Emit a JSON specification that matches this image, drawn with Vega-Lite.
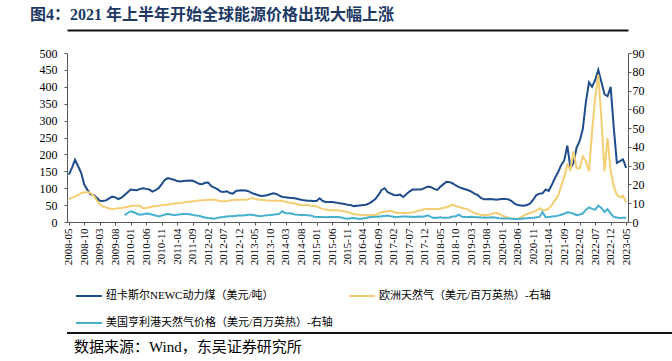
{
"$schema": "https://vega.github.io/schema/vega-lite/v6.json",
"padding": {"left": 22, "top": 7, "right": 0, "bottom": 0},
"title": {"text": "图4：2021 年上半年开始全球能源价格出现大幅上涨", "anchor": "start", "dx": 8, "font": "Liberation Serif, Noto Sans CJK SC", "fontSize": 16, "fontWeight": "bold", "color": "#203864", "offset": 7},
"spacing": 0,
"config": {"view": {"stroke": null}},
"resolve": {"scale": {"x": "independent", "y": "independent", "color": "independent"}, "legend": {"color": "independent"}},
"datasets": {"p": [
{"d":"2008-05","c":140,"e":12.2},{"d":"2008-06","c":160,"e":13},{"d":"2008-07","c":184,"e":13.5},{"d":"2008-08","c":165,"e":14.5},{"d":"2008-09","c":145,"e":15.4},{"d":"2008-10","c":110,"e":15.7},{"d":"2008-11","c":95,"e":16},{"d":"2008-12","c":82,"e":15.5},
{"d":"2009-01","c":80,"e":14},{"d":"2009-02","c":72,"e":11.5},{"d":"2009-03","c":63,"e":9.5},{"d":"2009-04","c":62,"e":8.2},{"d":"2009-05","c":64,"e":7.8},{"d":"2009-06","c":70,"e":7.2},{"d":"2009-07","c":75,"e":6.9},{"d":"2009-08","c":73,"e":7},{"d":"2009-09","c":68,"e":7.3},{"d":"2009-10","c":72,"e":7.5},{"d":"2009-11","c":80,"e":7.8,"h":3.6},{"d":"2009-12","c":88,"e":8,"h":4.8},
{"d":"2010-01","c":96,"e":8.5,"h":5.7},{"d":"2010-02","c":95,"e":8.7,"h":5.2},{"d":"2010-03","c":94,"e":8.7,"h":4.4},{"d":"2010-04","c":98,"e":8.6,"h":3.9},{"d":"2010-05","c":100,"e":7.2,"h":4.1},{"d":"2010-06","c":98,"e":7.5,"h":4.5},{"d":"2010-07","c":96,"e":7.8,"h":4.4},{"d":"2010-08","c":90,"e":8.2,"h":3.9},{"d":"2010-09","c":94,"e":8.4,"h":3.5},{"d":"2010-10","c":100,"e":8.6,"h":3.0},{"d":"2010-11","c":112,"e":8.9,"h":3.4},{"d":"2010-12","c":125,"e":9.1,"h":4.0},
{"d":"2011-01","c":130,"e":9.3,"h":4.3},{"d":"2011-02","c":127,"e":9.6,"h":4.0},{"d":"2011-03","c":125,"e":9.8,"h":3.6},{"d":"2011-04","c":121,"e":10,"h":3.8},{"d":"2011-05","c":120,"e":10.1,"h":4.1},{"d":"2011-06","c":121,"e":10.4,"h":4.3},{"d":"2011-07","c":122,"e":10.6,"h":4.3},{"d":"2011-08","c":123,"e":10.8,"h":4.1},{"d":"2011-09","c":122,"e":11,"h":3.8},{"d":"2011-10","c":118,"e":11.2,"h":3.5},{"d":"2011-11","c":113,"e":11.4,"h":3.3},{"d":"2011-12","c":112,"e":11.6,"h":2.8},
{"d":"2012-01","c":116,"e":11.6,"h":2.4},{"d":"2012-02","c":117,"e":11.8,"h":2.1},{"d":"2012-03","c":106,"e":11.9,"h":2.0},{"d":"2012-04","c":102,"e":11.9,"h":1.8},{"d":"2012-05","c":97,"e":11.5,"h":2.2},{"d":"2012-06","c":90,"e":11.1,"h":2.5},{"d":"2012-07","c":89,"e":11,"h":2.7},{"d":"2012-08","c":91,"e":11.2,"h":2.9},{"d":"2012-09","c":86,"e":11.5,"h":3.0},{"d":"2012-10","c":84,"e":11.7,"h":3.1},{"d":"2012-11","c":92,"e":11.8,"h":3.3},{"d":"2012-12","c":93,"e":11.9,"h":3.4},
{"d":"2013-01","c":94,"e":11.9,"h":3.4},{"d":"2013-02","c":93,"e":11.9,"h":3.6},{"d":"2013-03","c":91,"e":12,"h":3.8},{"d":"2013-04","c":86,"e":12.8,"h":3.9},{"d":"2013-05","c":83,"e":12.4,"h":3.6},{"d":"2013-06","c":80,"e":12,"h":3.3},{"d":"2013-07","c":77,"e":11.9,"h":3.1},{"d":"2013-08","c":78,"e":11.7,"h":3.4},{"d":"2013-09","c":79,"e":11.5,"h":3.6},{"d":"2013-10","c":82,"e":11.4,"h":3.7},{"d":"2013-11","c":85,"e":11.3,"h":3.9},{"d":"2013-12","c":83,"e":11.3,"h":4.1},
{"d":"2014-01","c":78,"e":11.3,"h":4.4},{"d":"2014-02","c":74,"e":11.2,"h":5.7},{"d":"2014-03","c":73,"e":10.8,"h":4.6},{"d":"2014-04","c":72,"e":10.4,"h":4.6},{"d":"2014-05","c":71,"e":10.1,"h":4.5},{"d":"2014-06","c":70,"e":9.8,"h":4.0},{"d":"2014-07","c":68,"e":9.3,"h":3.8},{"d":"2014-08","c":66,"e":8.9,"h":3.7},{"d":"2014-09","c":64,"e":8.9,"h":3.7},{"d":"2014-10","c":63,"e":9.2,"h":3.6},{"d":"2014-11","c":63,"e":8.7,"h":3.5},{"d":"2014-12","c":62,"e":8.5,"h":2.9},
{"d":"2015-01","c":62,"e":8.3,"h":2.7},{"d":"2015-02","c":70,"e":7.5,"h":2.7},{"d":"2015-03","c":62,"e":7,"h":2.6},{"d":"2015-04","c":59,"e":6.6,"h":2.5},{"d":"2015-05","c":59,"e":6.4,"h":2.7},{"d":"2015-06","c":59,"e":6.3,"h":2.6},{"d":"2015-07","c":58,"e":6.2,"h":2.6},{"d":"2015-08","c":56,"e":6.2,"h":2.6},{"d":"2015-09","c":55,"e":6,"h":2.4},{"d":"2015-10","c":53,"e":5.6,"h":2.0},{"d":"2015-11","c":51,"e":5.3,"h":1.8},{"d":"2015-12","c":50,"e":4.8,"h":2.0},
{"d":"2016-01","c":47,"e":4.3,"h":2.1},{"d":"2016-02","c":48,"e":4,"h":1.9},{"d":"2016-03","c":49,"e":3.8,"h":1.6},{"d":"2016-04","c":50,"e":3.6,"h":1.9},{"d":"2016-05","c":51,"e":3.6,"h":2.1},{"d":"2016-06","c":55,"e":3.6,"h":2.5},{"d":"2016-07","c":61,"e":3.7,"h":2.6},{"d":"2016-08","c":68,"e":3.6,"h":2.8},{"d":"2016-09","c":80,"e":4.5,"h":2.8},{"d":"2016-10","c":95,"e":5.2,"h":3.0},{"d":"2016-11","c":100,"e":5.4,"h":3.2},{"d":"2016-12","c":88,"e":5.7,"h":3.4},
{"d":"2017-01","c":84,"e":6,"h":3.0},{"d":"2017-02","c":80,"e":5.4,"h":2.8},{"d":"2017-03","c":79,"e":4.8,"h":2.7},{"d":"2017-04","c":81,"e":4.8,"h":2.8},{"d":"2017-05","c":74,"e":4.8,"h":2.9},{"d":"2017-06","c":82,"e":4.8,"h":2.9},{"d":"2017-07","c":90,"e":4.8,"h":2.8},{"d":"2017-08","c":96,"e":5.2,"h":2.8},{"d":"2017-09","c":96,"e":5.6,"h":2.7},{"d":"2017-10","c":96,"e":6,"h":2.9},{"d":"2017-11","c":97,"e":6.4,"h":2.8},{"d":"2017-12","c":101,"e":6.9,"h":3.1},
{"d":"2018-01","c":105,"e":6.9,"h":3.6},{"d":"2018-02","c":103,"e":6.9,"h":2.6},{"d":"2018-03","c":98,"e":6.9,"h":2.2},{"d":"2018-04","c":95,"e":6.9,"h":2.3},{"d":"2018-05","c":104,"e":7.2,"h":2.5},{"d":"2018-06","c":112,"e":7.5,"h":2.2},{"d":"2018-07","c":119,"e":7.8,"h":2.3},{"d":"2018-08","c":118,"e":8.5,"h":2.4},{"d":"2018-09","c":114,"e":9.2,"h":2.9},{"d":"2018-10","c":108,"e":8.5,"h":3.1},{"d":"2018-11","c":103,"e":8,"h":3.9},{"d":"2018-12","c":100,"e":7.5,"h":2.8},
{"d":"2019-01","c":97,"e":7.1,"h":2.7},{"d":"2019-02","c":94,"e":6.6,"h":2.7},{"d":"2019-03","c":90,"e":5.6,"h":2.8},{"d":"2019-04","c":84,"e":4.8,"h":2.6},{"d":"2019-05","c":80,"e":4.3,"h":2.5},{"d":"2019-06","c":72,"e":3.8,"h":2.4},{"d":"2019-07","c":67,"e":3.6,"h":2.4},{"d":"2019-08","c":67,"e":3.6,"h":2.3},{"d":"2019-09","c":68,"e":4,"h":2.4},{"d":"2019-10","c":67,"e":4.6,"h":2.5},{"d":"2019-11","c":66,"e":4.8,"h":2.3},{"d":"2019-12","c":67,"e":4.3,"h":2.0},
{"d":"2020-01","c":68,"e":3.3,"h":1.9},{"d":"2020-02","c":68,"e":2.8,"h":1.9},{"d":"2020-03","c":67,"e":2.3,"h":1.8},{"d":"2020-04","c":62,"e":1.8,"h":1.7},{"d":"2020-05","c":54,"e":1.7,"h":1.6},{"d":"2020-06","c":50,"e":1.6,"h":1.6},{"d":"2020-07","c":49,"e":2.5,"h":1.7},{"d":"2020-08","c":48,"e":3.5,"h":1.9},{"d":"2020-09","c":50,"e":4.3,"h":2.0},{"d":"2020-10","c":55,"e":4.8,"h":2.1},{"d":"2020-11","c":66,"e":5.3,"h":2.2},{"d":"2020-12","c":80,"e":6,"h":2.5},
{"d":"2021-01","c":84,"e":7.3,"h":2.7},{"d":"2021-02","c":85,"e":6.2,"h":5.2},{"d":"2021-03","c":96,"e":6.4,"h":2.5},{"d":"2021-04","c":92,"e":7.2,"h":2.6},{"d":"2021-05","c":110,"e":9,"h":2.9},{"d":"2021-06","c":130,"e":11.5,"h":3.0},{"d":"2021-07","c":147,"e":14,"h":3.4},{"d":"2021-08","c":168,"e":19,"h":3.9},{"d":"2021-09","c":182,"e":24,"h":4.4},{"d":"2021-10","c":226,"e":30.5,"h":5.2},{"d":"2021-11","c":160,"e":27.9,"h":5.0},{"d":"2021-12","c":175,"e":37.6,"h":4.4},
{"d":"2022-01","c":220,"e":28.8,"h":3.6},{"d":"2022-02","c":240,"e":28.5,"h":4.0},{"d":"2022-03","c":275,"e":35,"h":4.5},{"d":"2022-04","c":355,"e":32.3,"h":6.6},{"d":"2022-05","c":413,"e":27,"h":7.8},{"d":"2022-06","c":400,"e":48,"h":7.0},{"d":"2022-07","c":420,"e":66,"h":6.6},{"d":"2022-08","c":450,"e":78.4,"h":8.7},{"d":"2022-09","c":415,"e":55,"h":7.5},{"d":"2022-10","c":378,"e":27,"h":5.3},{"d":"2022-11","c":372,"e":44.7,"h":6.9},{"d":"2022-12","c":400,"e":27,"h":4.5},
{"d":"2023-01","c":280,"e":19,"h":2.7},{"d":"2023-02","c":175,"e":14.5,"h":2.4},{"d":"2023-03","c":180,"e":13.3,"h":2.1},{"d":"2023-04","c":185,"e":14,"h":2.2},{"d":"2023-05","c":160,"e":10.5,"h":2.3}
]},
"vconcat": [
{"width": 561, "height": 169, "data": {"name": "p"},
 "layer": [
  {"mark": {"type": "line", "strokeWidth": 2},
   "encoding": {"x": {"field": "d", "type": "ordinal", "sort": null, "scale": {"type": "point", "padding": 0.6},
       "axis": {"orient": "bottom", "title": null, "values": ["2008-05","2008-10","2009-03","2009-08","2010-01","2010-06","2010-11","2011-04","2011-09","2012-02","2012-07","2012-12","2013-05","2013-10","2014-03","2014-08","2015-01","2015-06","2015-11","2016-04","2016-09","2017-02","2017-07","2017-12","2018-05","2018-10","2019-03","2019-08","2020-01","2020-06","2020-11","2021-04","2021-09","2022-02","2022-07","2022-12","2023-05"],
         "labelAngle": -90, "labelFont": "Liberation Serif", "labelFontSize": 11, "labelColor": "#000000", "tickSize": 3, "tickColor": "#595959", "domainColor": "#595959", "labelPadding": 3, "grid": false}},
     "y": {"field": "c", "type": "quantitative", "scale": {"domain": [0, 500]},
       "axis": {"orient": "left", "title": null, "values": [0,50,100,150,200,250,300,350,400,450,500], "grid": false, "labelFont": "Liberation Serif", "labelFontSize": 12, "labelColor": "#000000", "tickSize": 3, "tickColor": "#595959", "domainColor": "#595959", "labelPadding": 7, "minExtent": 45, "maxExtent": 45}},
     "color": {"datum": "纽卡斯尔NEWC动力煤（美元/吨）", "type": "nominal",
       "scale": {"domain": ["纽卡斯尔NEWC动力煤（美元/吨）", "欧洲天然气（美元/百万英热）-右轴", "美国亨利港天然气价格（美元/百万英热）-右轴"], "range": ["#1E4D8C", "#F3CE72", "#46B0CF"]},
       "legend": {"orient": "bottom", "direction": "horizontal", "offset": 17, "columns": 2, "symbolType": "stroke", "symbolSize": 676, "symbolStrokeWidth": 2, "labelFont": "Liberation Serif, Noto Sans CJK SC", "labelFontSize": 11, "labelColor": "#000000", "columnPadding": 12, "rowPadding": 8, "title": " ", "titleOrient": "left", "titlePadding": 8, "titleFontSize": 11, "labelLimit": 400, "padding": 0, "labelOffset": 3}}}},
  {"encoding": {"x": {"field": "d", "type": "ordinal", "sort": null, "scale": {"type": "point", "padding": 0.6},
      "axis": {"orient": "top", "offset": 23, "title": null, "labels": false, "ticks": false, "grid": false, "domainColor": "#111111", "domainWidth": 2}}},
   "layer": [
    {"mark": {"type": "line", "strokeWidth": 2},
     "encoding": {"y": {"field": "e", "type": "quantitative", "scale": {"domain": [0, 90]},
        "axis": {"orient": "right", "title": null, "values": [0,10,20,30,40,50,60,70,80,90], "grid": false, "labelFont": "Liberation Serif", "labelFontSize": 12, "labelColor": "#000000", "tickSize": 3, "tickColor": "#595959", "domainColor": "#595959", "labelPadding": 1}},
       "color": {"datum": "欧洲天然气（美元/百万英热）-右轴", "type": "nominal"}}},
    {"mark": {"type": "line", "strokeWidth": 2},
     "encoding": {"y": {"field": "h", "type": "quantitative", "scale": {"domain": [0, 90]},
        "axis": {"orient": "right", "title": null, "values": [0,10,20,30,40,50,60,70,80,90], "grid": false, "labelFont": "Liberation Serif", "labelFontSize": 12, "labelColor": "#000000", "tickSize": 3, "tickColor": "#595959", "domainColor": "#595959", "labelPadding": 1}},
       "color": {"datum": "美国亨利港天然气价格（美元/百万英热）-右轴", "type": "nominal"}}}
  ]}
 ],
 "resolve": {"scale": {"y": "independent"}, "axis": {"x": "independent"}}
},
{"width": 650, "height": 5, "data": {"name": "p"}, "mark": {"type": "rule", "color": "#111111", "strokeWidth": 2},
 "encoding": {"y": {"datum": 0, "type": "quantitative", "axis": null, "scale": {"domain": [0, 1]}}},
 "title": {"text": "数据来源：Wind，东吴证券研究所", "orient": "bottom", "anchor": "start", "dx": 8, "offset": 6, "font": "Liberation Serif, Noto Sans CJK SC", "fontSize": 15, "fontWeight": "normal", "color": "#000000"}}
]
}
